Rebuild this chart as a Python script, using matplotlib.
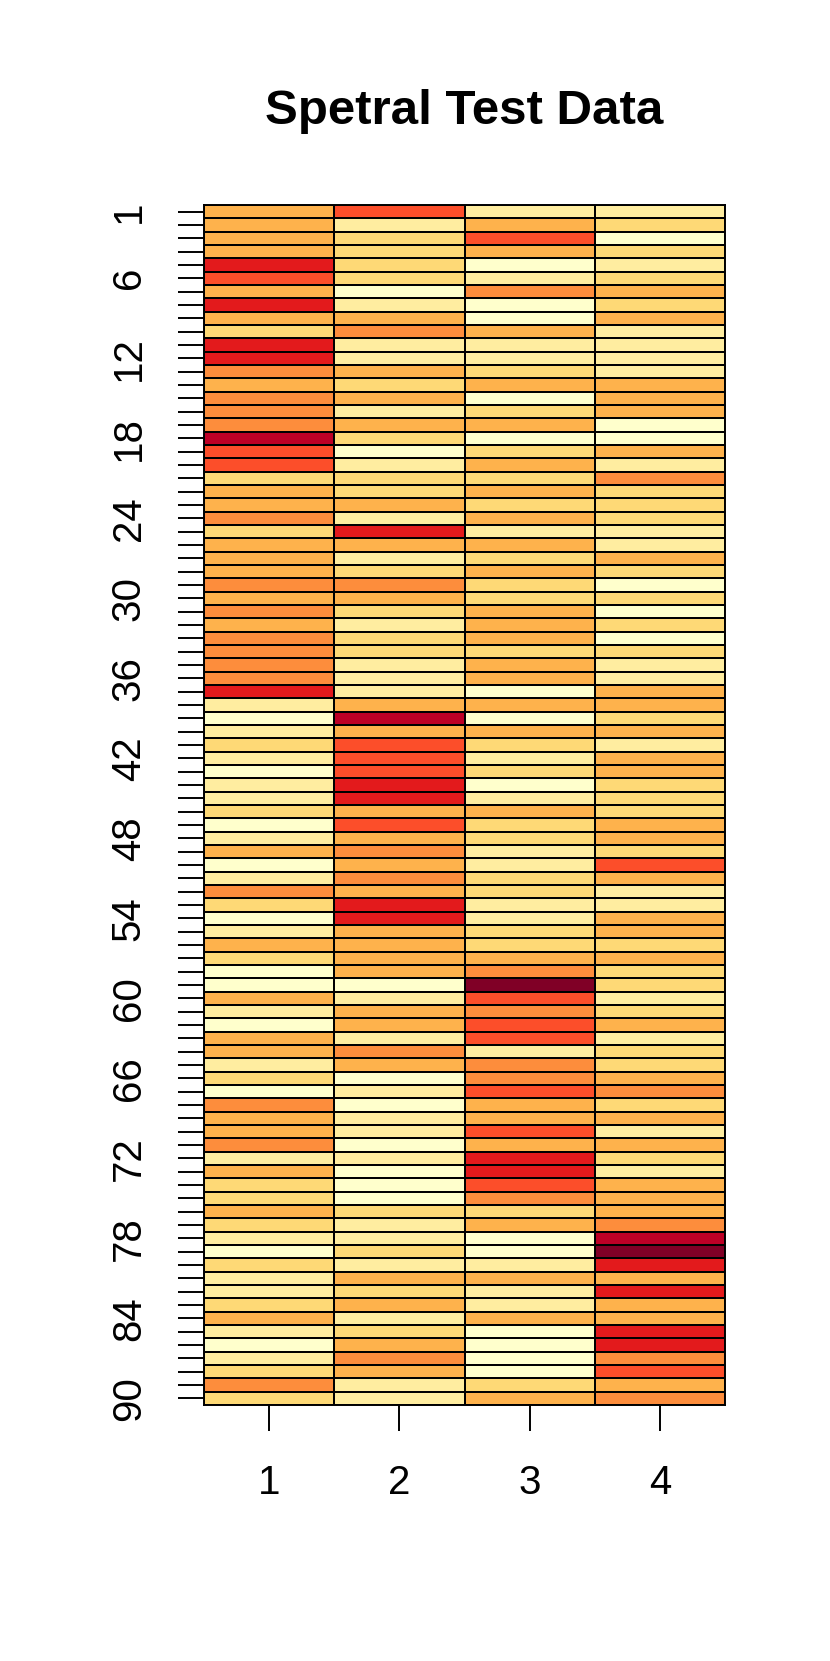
import matplotlib
matplotlib.use("Agg")
import matplotlib.pyplot as plt
import numpy as np
from matplotlib.colors import ListedColormap, BoundaryNorm

plt.rcParams["font.family"] = ["Liberation Sans", "DejaVu Sans"]

# YlOrRd (9 classes), level 1 = lightest
PALETTE = ["#FFFFCC", "#FFEDA0", "#FED976", "#FEB24C", "#FD8D3C",
           "#FC4E2A", "#E31A1C", "#BD0026", "#800026"]

TITLE = "Spetral Test Data"
COLUMN_LABELS = ["1", "2", "3", "4"]
ROW_LABELED = [1, 6, 12, 18, 24, 30, 36, 42, 48, 54, 60, 66, 72, 78, 84, 90]

# colour level per row (rows 1..90, top to bottom)
col1 = [4, 4, 4, 4, 7, 6, 4, 7, 4, 3, 7, 7, 5, 4, 5,
        5, 5, 8, 6, 6, 3, 4, 4, 5, 3, 4, 4, 4, 5, 4,
        5, 4, 5, 5, 5, 5, 7, 2, 1, 2, 3, 2, 1, 2, 2,
        3, 1, 2, 4, 1, 2, 5, 3, 1, 2, 4, 3, 1, 1, 4,
        2, 1, 4, 4, 2, 3, 1, 5, 4, 4, 5, 2, 4, 3, 3,
        4, 3, 2, 1, 3, 2, 2, 3, 4, 2, 1, 2, 3, 5, 3]
col2 = [6, 2, 3, 3, 3, 3, 1, 2, 4, 5, 2, 2, 4, 3, 4,
        2, 4, 3, 1, 2, 3, 3, 4, 2, 7, 4, 2, 3, 5, 4,
        3, 2, 3, 3, 2, 2, 2, 4, 8, 4, 6, 6, 6, 7, 7,
        4, 6, 4, 5, 4, 5, 4, 7, 7, 4, 4, 4, 4, 1, 2,
        4, 4, 2, 5, 4, 1, 2, 1, 2, 2, 1, 2, 1, 1, 1,
        3, 2, 2, 3, 2, 4, 3, 4, 2, 3, 4, 5, 4, 2, 2]
col3 = [2, 4, 6, 4, 1, 2, 5, 1, 1, 4, 2, 2, 3, 4, 1,
        3, 4, 1, 3, 4, 3, 4, 3, 4, 2, 4, 3, 4, 3, 3,
        4, 4, 4, 3, 4, 4, 1, 4, 1, 4, 3, 2, 3, 1, 2,
        4, 3, 3, 2, 2, 3, 3, 2, 2, 3, 3, 4, 5, 9, 6,
        5, 6, 6, 2, 5, 5, 6, 4, 4, 6, 4, 7, 7, 6, 5,
        3, 4, 1, 1, 2, 4, 2, 2, 4, 1, 1, 1, 1, 3, 4]
col4 = [2, 3, 1, 3, 2, 3, 4, 3, 4, 2, 2, 2, 2, 4, 4,
        4, 1, 1, 4, 2, 5, 3, 3, 3, 2, 2, 4, 3, 1, 3,
        1, 3, 1, 3, 2, 2, 4, 4, 3, 4, 2, 4, 4, 3, 3,
        3, 4, 4, 3, 6, 4, 2, 2, 4, 4, 3, 4, 3, 3, 2,
        3, 4, 2, 3, 3, 4, 5, 3, 4, 2, 4, 3, 2, 4, 4,
        4, 5, 8, 9, 7, 4, 7, 4, 4, 7, 7, 5, 6, 4, 5]

levels = np.array([col1, col2, col3, col4]).T
n_rows, n_cols = levels.shape

cmap = ListedColormap(PALETTE)
norm = BoundaryNorm(np.arange(0.5, 10.5, 1), cmap.N)

fig = plt.figure(figsize=(8.3, 16.61), dpi=100)
ax = fig.add_axes([0.2458, 0.1541, 0.6277, 0.7225])

ax.pcolormesh(np.arange(0.5, n_cols + 1), np.arange(0.5, n_rows + 1), levels,
              cmap=cmap, norm=norm, edgecolors="black", linewidth=1.4)
ax.set_xlim(0.5, n_cols + 0.5)
ax.set_ylim(n_rows + 0.5, 0.5)

for spine in ax.spines.values():
    spine.set_linewidth(1.4)

ax.set_xticks(range(1, n_cols + 1))
ax.set_xticklabels(COLUMN_LABELS)
ax.set_yticks(range(1, n_rows + 1))
ax.set_yticklabels([str(i) if i in ROW_LABELED else "" for i in range(1, n_rows + 1)],
                   rotation=90, va="center")
ax.tick_params(axis="both", length=18.5, width=1.4, labelsize=29)
ax.tick_params(axis="x", pad=24)
ax.tick_params(axis="y", pad=22)

fig.text(0.5597, 1 - 124 / 1661, TITLE, ha="center", va="baseline",
         fontsize=35.5, fontweight="bold")

fig.savefig("out.png", dpi=100)
